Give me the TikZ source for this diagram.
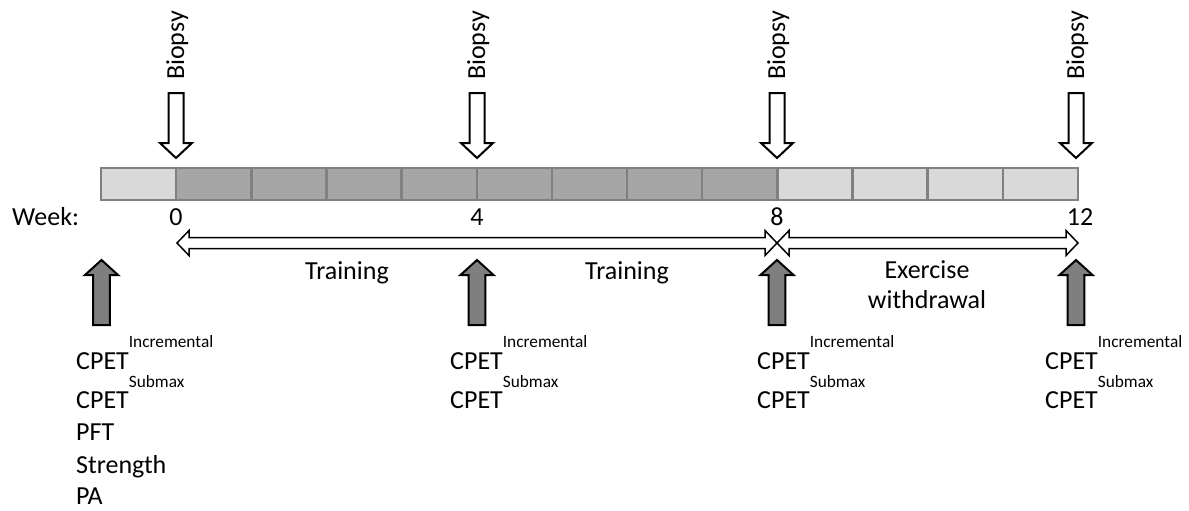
\documentclass[tikz,border=0pt]{standalone}
\usepackage{fontspec}
\setmainfont{Carlito}
\usepackage{tikz}
\usepackage{xcolor}
\definecolor{LightCell}{HTML}{D9D9D9}
\definecolor{DarkCell}{HTML}{A6A6A6}
\definecolor{CellLine}{HTML}{808080}
\definecolor{TestGray}{HTML}{7F7F7F}
\newcommand\supsize{\fontsize{17.3}{20}\selectfont}
\newcommand\labinc{CPET\raisebox{22pt}{\supsize Incremental}}
\newcommand\labsub{CPET\raisebox{21pt}{\supsize Submax}}
\tikzstyle{cell} = [rectangle, draw=CellLine, line width=2.5pt, minimum width=75.15pt, minimum height=32pt, inner sep=0pt]
\tikzstyle{lc} = [cell, fill=LightCell]
\tikzstyle{dc} = [cell, fill=DarkCell]
\tikzstyle{lab} = [inner sep=0pt, text=black, font=\fontsize{26}{31}\selectfont]
\tikzset{
  biopsyarrow/.pic={\draw[line width=2pt, fill=white] (-7.5,0) -- (7.5,0) -- (7.5,50) -- (16,50) -- (0,65) -- (-16,50) -- (-7.5,50) -- cycle;},
  testarrow/.pic={\draw[line width=2pt, fill=TestGray] (0,0) -- (16.5,15) -- (8.3,15) -- (8.3,65) -- (-8.3,65) -- (-8.3,15) -- (-16.5,15) -- cycle;},
  pics/spanarrow/.style={code={\draw[line width=1.5pt] (0,0) -- (12,-12.5) -- (12,-5.5) -- (#1-12,-5.5) -- (#1-12,-12.5) -- (#1,0) -- (#1-12,12.5) -- (#1-12,5.5) -- (12,5.5) -- (12,12.5) -- cycle;}}
}

\begin{document}
\begin{tikzpicture}[x=1pt, y=-1pt]
\useasboundingbox (0,0) rectangle (1189,511);
% weeks bar
\foreach \i in {0,9,10,11,12}
  \node[lc] (c\i) at ({138.6+75.15*\i},184) {};
\foreach \i in {1,...,8}
  \node[dc] (c\i) at ({138.6+75.15*\i},184) {};
% biopsies
\foreach \x in {176,477,777,1076} {
  \pic at (\x,93) {biopsyarrow};
  \node[lab, rotate=90, anchor=base west] (bio\x) at (\x+8,80) {Biopsy};
}
% week numbers
\node[lab, anchor=base west] (week) at (12,225) {Week:};
\node[lab, anchor=base] (w0) at (176,225) {0};
\node[lab, anchor=base] (w4) at (477,225) {4};
\node[lab, anchor=base] (w8) at (777,225) {8};
\node[lab, anchor=base] (w12) at (1080,225) {12};
% periods
\pic at (177,243) {spanarrow=600};
\pic at (777,243) {spanarrow=301};
\node[lab, anchor=base] (tr1) at (347,279) {Training};
\node[lab, anchor=base] (tr2) at (627,279) {Training};
\node[lab, anchor=base] (ex1) at (927,278) {Exercise};
\node[lab, anchor=base] (ex2) at (927,308) {withdrawal};
% tests
\foreach \x in {101.5,477,777,1076}
  \pic at (\x,260) {testarrow};
\node[lab, anchor=base west] (t0a) at (76,369) {\labinc};
\node[lab, anchor=base west] (t0b) at (76,408) {\labsub};
\node[lab, anchor=base west] (t0c) at (76,440) {PFT};
\node[lab, anchor=base west] (t0d) at (76,473) {Strength};
\node[lab, anchor=base west] (t0e) at (76,504) {PA};
\node[lab, anchor=base west] (t4a) at (450,369) {\labinc};
\node[lab, anchor=base west] (t4b) at (450,408) {\labsub};
\node[lab, anchor=base west] (t8a) at (757,369) {\labinc};
\node[lab, anchor=base west] (t8b) at (757,408) {\labsub};
\node[lab, anchor=base west] (t12a) at (1045,369) {\labinc};
\node[lab, anchor=base west] (t12b) at (1045,408) {\labsub};
\end{tikzpicture}
\end{document}
